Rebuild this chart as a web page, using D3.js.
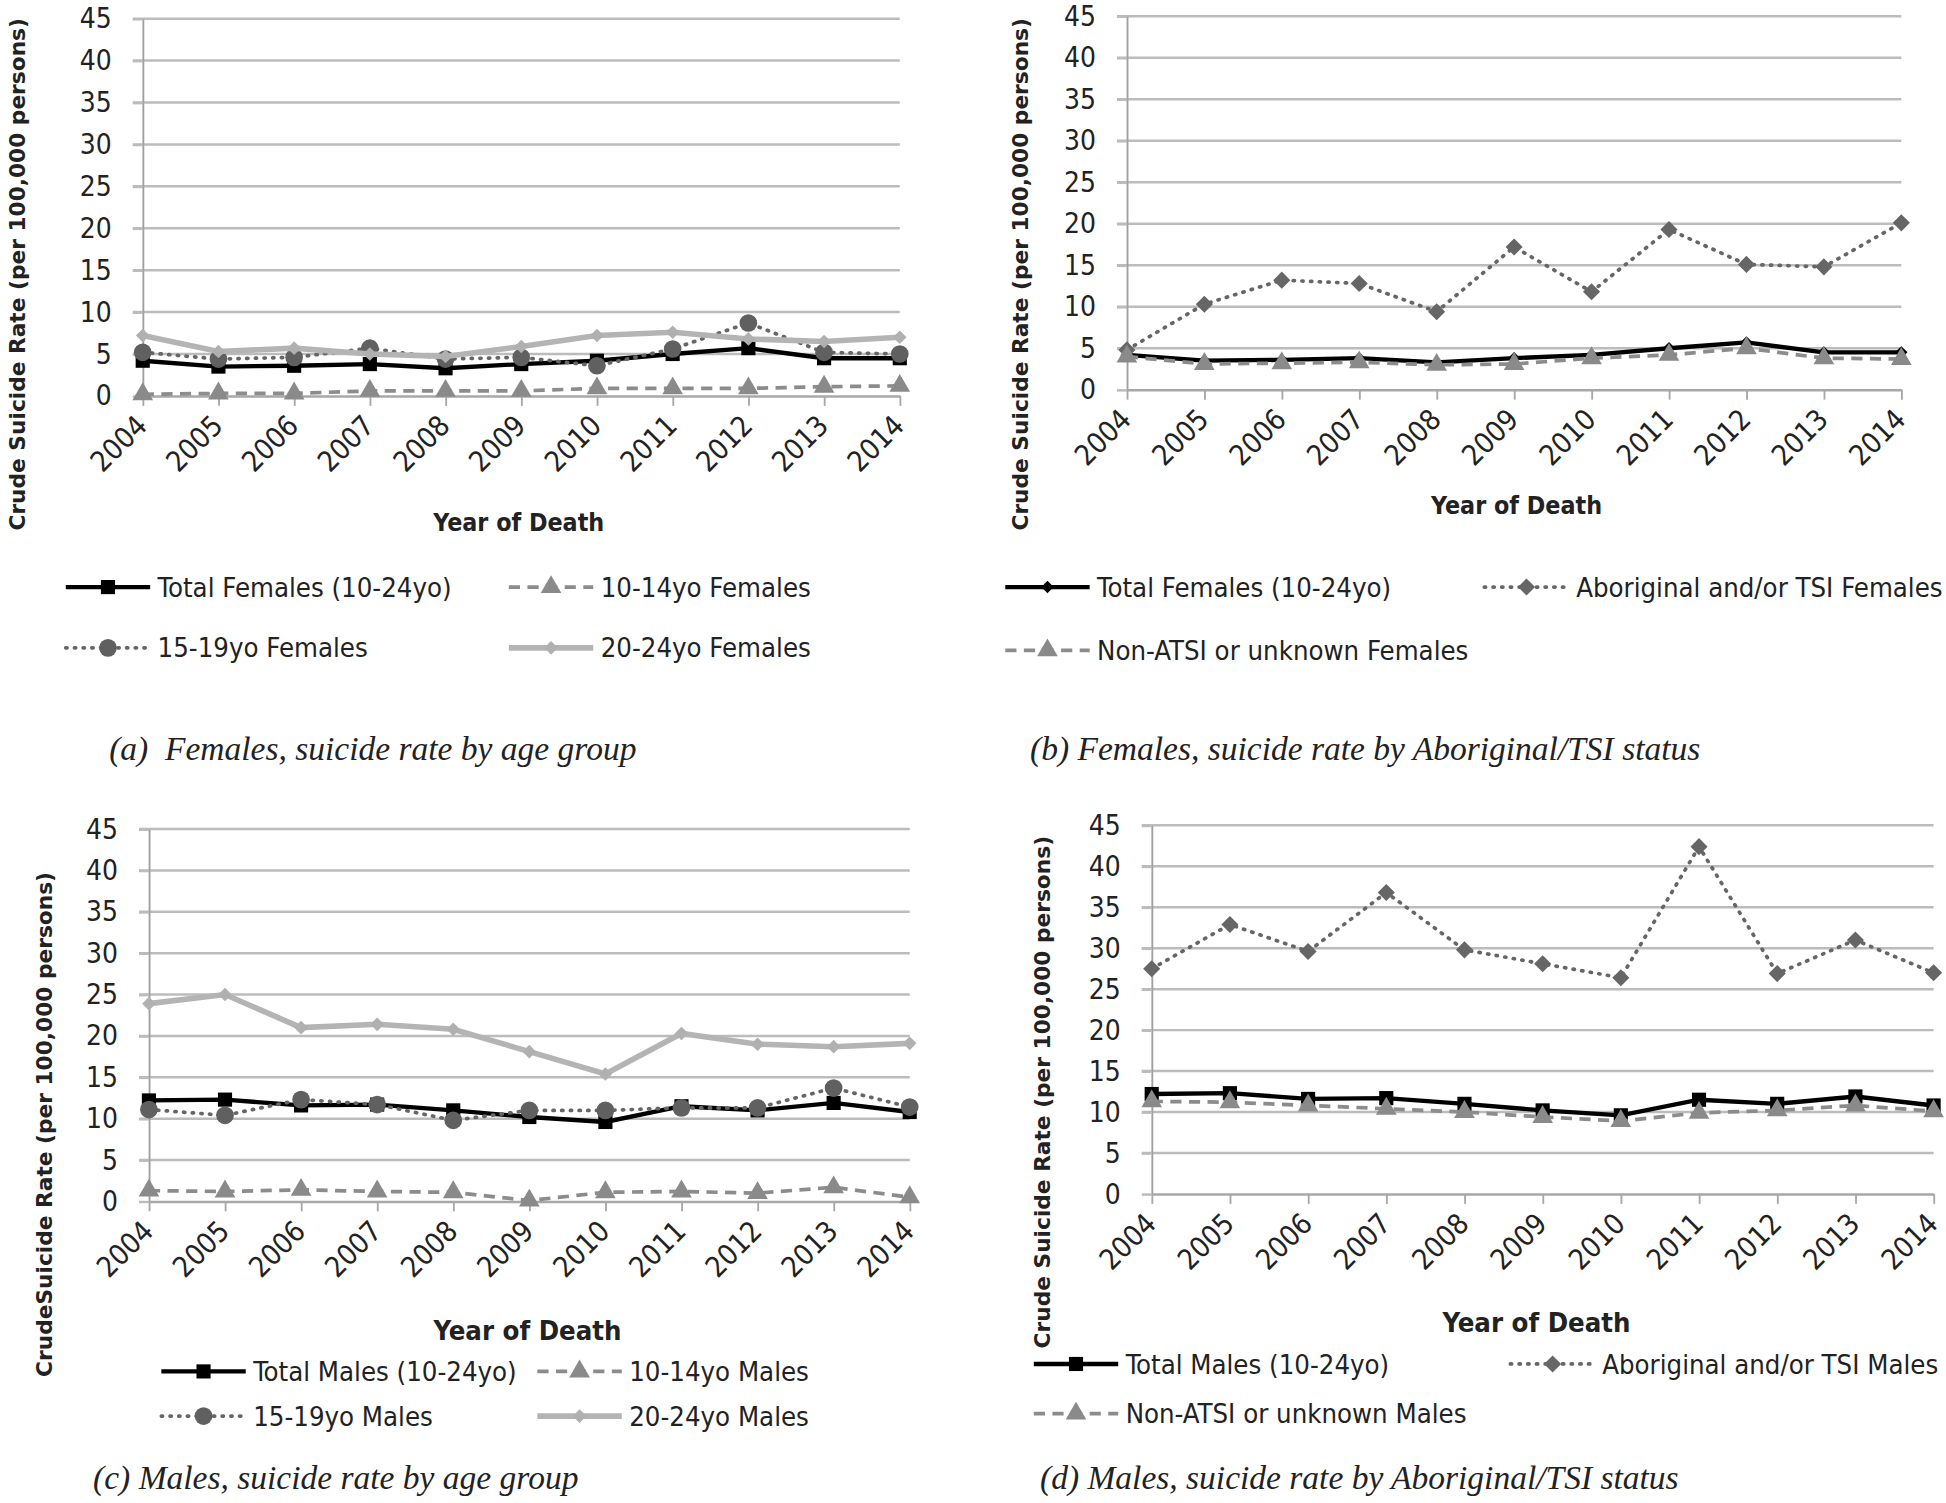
<!DOCTYPE html>
<html>
<head>
<meta charset="utf-8">
<script src="https://cdn.jsdelivr.net/npm/d3@7"></script>
<style>
  html, body { margin: 0; padding: 0; background: #fff; }
  svg { display: block; }
</style>
</head>
<body>
<svg id="chart"></svg>
<script>
// years on the x axis
const years = ['2004', '2005', '2006', '2007', '2008', '2009', '2010', '2011', '2012', '2013', '2014'];
const yTicks = [0, 5, 10, 15, 20, 25, 30, 35, 40, 45];

// (a) females by age group
const femTotal = [4.2, 3.5, 3.6, 3.8, 3.3, 3.8, 4.2, 5.0, 5.7, 4.5, 4.5];
const fem1014 = [0.2, 0.3, 0.3, 0.6, 0.6, 0.6, 0.9, 0.9, 0.9, 1.1, 1.2];
const fem1519 = [5.2, 4.4, 4.6, 5.7, 4.4, 4.6, 3.6, 5.6, 8.7, 5.2, 5.0];
const fem2024 = [7.2, 5.3, 5.7, 5.0, 4.7, 5.9, 7.2, 7.6, 6.8, 6.5, 7.0];

// (b) females by Aboriginal/TSI status
const femATSI = [4.8, 10.3, 13.2, 12.8, 9.4, 17.2, 11.8, 19.3, 15.1, 14.8, 20.1];
const femNonATSI = [4.0, 3.1, 3.2, 3.3, 3.0, 3.1, 3.8, 4.2, 5.0, 3.8, 3.7];

// (c) males by age group
const maleTotal = [12.2, 12.3, 11.6, 11.7, 11.0, 10.2, 9.6, 11.5, 11.0, 11.9, 10.8];
const male1014 = [1.3, 1.2, 1.4, 1.2, 1.1, 0.1, 1.1, 1.2, 1.0, 1.7, 0.5];
const male1519 = [11.1, 10.4, 12.3, 11.7, 9.8, 11.0, 11.0, 11.3, 11.3, 13.7, 11.4];
const male2024 = [23.9, 25.0, 21.0, 21.4, 20.8, 18.1, 15.4, 20.3, 19.0, 18.7, 19.1];

// (d) males by Aboriginal/TSI status
const maleATSI = [27.5, 32.9, 29.6, 36.8, 29.8, 28.1, 26.4, 42.4, 26.9, 31.0, 27.0];
const maleNonATSI = [11.3, 11.2, 10.8, 10.4, 10.0, 9.4, 8.9, 9.9, 10.2, 10.8, 10.1];

const W = 1568, H = 1211;
const svg = d3.select('#chart')
    .attr('width', 1946)
    .attr('height', 1503)
    .attr('viewBox', `0 0 ${W} ${H}`);

const sansNarrow = '"Liberation Sans Narrow", "DejaVu Sans Condensed", sans-serif';

// line / marker looks, Excel-like greys
const styles = {
    total:  { stroke: '#000', width: 3.5, dash: null, fill: '#000', sym: 'square', size: 130 },
    young:  { stroke: '#8c8c8c', width: 3, dash: '9,6', fill: '#8a8a8a', sym: 'triangle', size: 120 },
    mid:    { stroke: '#666', width: 3, dash: '1,6', fill: '#606060', sym: 'circle', size: 160 },
    old:    { stroke: '#b4b4b4', width: 4.5, dash: null, fill: '#b0b0b0', sym: 'diamond', size: 60 },
    atsi:   { stroke: '#666', width: 3, dash: '1,6', fill: '#666', sym: 'diamond', size: 95 },
    totalD: { stroke: '#000', width: 3.5, dash: null, fill: '#000', sym: 'diamond', size: 50 }
};

function symbolPath(st) {
    if (st.sym === 'circle') return d3.symbol(d3.symbolCircle, st.size)();
    if (st.sym === 'triangle') return d3.symbol(d3.symbolTriangle, st.size)();
    return d3.symbol(d3.symbolSquare, st.size)();
}

function drawPanel(p) {
    const g = svg.append('g');
    const x = d3.scalePoint().domain(years).range([p.left, p.right]);
    const y = d3.scaleLinear().domain([0, 45]).range([p.y0, p.y45]);

    // gridlines
    g.append('g').selectAll('line')
        .data(yTicks.filter(t => t > 0))
        .join('line')
        .attr('x1', p.left - 8).attr('x2', p.right)
        .attr('y1', d => y(d)).attr('y2', d => y(d))
        .attr('stroke', '#bcbcbc').attr('stroke-width', 2);

    // y axis
    const ya = g.append('g')
        .attr('transform', `translate(${p.left},0)`)
        .call(d3.axisLeft(y).tickValues(yTicks).tickSize(8).tickSizeOuter(0).tickPadding(17));
    ya.select('.domain').attr('stroke', '#a0a0a0').attr('stroke-width', 1.5);
    ya.selectAll('.tick line').attr('stroke', '#bcbcbc').attr('stroke-width', 2);
    ya.selectAll('text')
        .attr('font-family', sansNarrow).attr('font-size', 22.5).attr('fill', '#222');

    // x axis
    const xa = g.append('g')
        .attr('transform', `translate(0,${p.y0})`)
        .call(d3.axisBottom(x).tickSize(8).tickSizeOuter(0).tickPadding(0));
    xa.select('.domain').attr('stroke', '#a8a8a8').attr('stroke-width', 2);
    xa.selectAll('.tick line').attr('stroke', '#a8a8a8').attr('stroke-width', 1.5);
    xa.selectAll('text')
        .attr('font-family', sansNarrow).attr('font-size', 23).attr('fill', '#222')
        .attr('text-anchor', 'end')
        .attr('transform', 'translate(-7,14) rotate(-45)')
        .attr('dy', '0.35em');

    // series
    p.series.forEach(s => {
        const st = styles[s.style];
        const pts = years.map((yr, i) => [x(yr), y(s.values[i])]);
        g.append('path')
            .attr('d', d3.line()(pts))
            .attr('fill', 'none')
            .attr('stroke', st.stroke)
            .attr('stroke-width', st.width)
            .attr('stroke-linecap', st.dash === '1,6' ? 'round' : 'butt')
            .attr('stroke-dasharray', st.dash);
        g.append('g').selectAll('path')
            .data(pts)
            .join('path')
            .attr('d', symbolPath(st))
            .attr('transform', d => `translate(${d[0]},${d[1]})` + (st.sym === 'diamond' ? ' rotate(45)' : ''))
            .attr('fill', st.fill);
    });

    // axis titles
    g.append('text')
        .attr('transform', `translate(${p.yTitleX},${p.yTitleY}) rotate(-90)`)
        .attr('text-anchor', 'middle')
        .attr('font-family', '"DejaVu Sans", sans-serif')
        .attr('font-weight', 'bold')
        .attr('font-size', 17.5)
        .attr('fill', '#222')
        .text(p.yTitle);
    g.append('text')
        .attr('x', p.xTitleX).attr('y', p.xTitleY)
        .attr('text-anchor', 'middle')
        .attr('font-family', sansNarrow)
        .attr('font-weight', 'bold')
        .attr('font-size', p.xTitleSize)
        .attr('fill', '#222')
        .text('Year of Death');

    // legend
    p.legend.forEach(l => {
        const st = styles[l.style];
        const lg = g.append('g').attr('transform', `translate(${l.x},${l.y})`);
        lg.append('line')
            .attr('x1', 0).attr('x2', 68).attr('y1', 0).attr('y2', 0)
            .attr('stroke', st.stroke).attr('stroke-width', st.width)
            .attr('stroke-linecap', st.dash === '1,6' ? 'round' : 'butt')
            .attr('stroke-dasharray', st.dash);
        lg.append('path')
            .attr('d', symbolPath(st))
            .attr('transform', 'translate(34,0)' + (st.sym === 'diamond' ? ' rotate(45)' : ''))
            .attr('fill', st.fill);
        lg.append('text')
            .attr('x', 74).attr('y', 0).attr('dy', '0.35em')
            .attr('font-family', sansNarrow).attr('font-size', 22).attr('fill', '#222')
            .text(l.label);
    });

    // caption
    g.append('text')
        .attr('x', p.capX).attr('y', p.capY)
        .attr('font-family', '"Liberation Serif", serif')
        .attr('font-style', 'italic')
        .attr('font-size', 27)
        .attr('fill', '#222')
        .attr('xml:space', 'preserve')
        .text(p.caption);
}

drawPanel({
    left: 115, right: 725, y0: 319, y45: 15,
    yTitle: 'Crude Suicide Rate (per 100,000 persons)', yTitleX: 20, yTitleY: 221,
    xTitleX: 418, xTitleY: 428, xTitleSize: 20,
    series: [
        { values: femTotal, style: 'total' },
        { values: fem1014, style: 'young' },
        { values: fem1519, style: 'mid' },
        { values: fem2024, style: 'old' }
    ],
    legend: [
        { x: 53, y: 473, style: 'total', label: 'Total Females (10-24yo)' },
        { x: 410, y: 473, style: 'young', label: '10-14yo Females' },
        { x: 53, y: 522, style: 'mid', label: '15-19yo Females' },
        { x: 410, y: 522, style: 'old', label: '20-24yo Females' }
    ],
    caption: '(a)  Females, suicide rate by age group', capX: 88, capY: 612
});

drawPanel({
    left: 908, right: 1532, y0: 314, y45: 13,
    yTitle: 'Crude Suicide Rate (per 100,000 persons)', yTitleX: 828, yTitleY: 221,
    xTitleX: 1222, xTitleY: 414, xTitleSize: 20,
    series: [
        { values: femTotal, style: 'totalD' },
        { values: femATSI, style: 'atsi' },
        { values: femNonATSI, style: 'young' }
    ],
    legend: [
        { x: 810, y: 473, style: 'totalD', label: 'Total Females (10-24yo)' },
        { x: 1196, y: 473, style: 'atsi', label: 'Aboriginal and/or TSI Females' },
        { x: 810, y: 524, style: 'young', label: 'Non-ATSI or unknown Females' }
    ],
    caption: '(b) Females, suicide rate by Aboriginal/TSI status', capX: 830, capY: 612
});

drawPanel({
    left: 120, right: 733, y0: 968, y45: 668,
    yTitle: 'CrudeSuicide Rate (per 100,000 persons)', yTitleX: 42, yTitleY: 906,
    xTitleX: 425, xTitleY: 1080, xTitleSize: 22,
    series: [
        { values: maleTotal, style: 'total' },
        { values: male1014, style: 'young' },
        { values: male1519, style: 'mid' },
        { values: male2024, style: 'old' }
    ],
    legend: [
        { x: 130, y: 1105, style: 'total', label: 'Total Males (10-24yo)' },
        { x: 433, y: 1105, style: 'young', label: '10-14yo Males' },
        { x: 130, y: 1141, style: 'mid', label: '15-19yo Males' },
        { x: 433, y: 1141, style: 'old', label: '20-24yo Males' }
    ],
    caption: '(c) Males, suicide rate by age group', capX: 75, capY: 1200
});

drawPanel({
    left: 928, right: 1558, y0: 962, y45: 665,
    yTitle: 'Crude Suicide Rate (per 100,000 persons)', yTitleX: 846, yTitleY: 880,
    xTitleX: 1238, xTitleY: 1073, xTitleSize: 22,
    series: [
        { values: maleTotal, style: 'total' },
        { values: maleATSI, style: 'atsi' },
        { values: maleNonATSI, style: 'young' }
    ],
    legend: [
        { x: 833, y: 1099, style: 'total', label: 'Total Males (10-24yo)' },
        { x: 1217, y: 1099, style: 'atsi', label: 'Aboriginal and/or TSI Males' },
        { x: 833, y: 1139, style: 'young', label: 'Non-ATSI or unknown Males' }
    ],
    caption: '(d) Males, suicide rate by Aboriginal/TSI status', capX: 838, capY: 1200
});
</script>
</body>
</html>
